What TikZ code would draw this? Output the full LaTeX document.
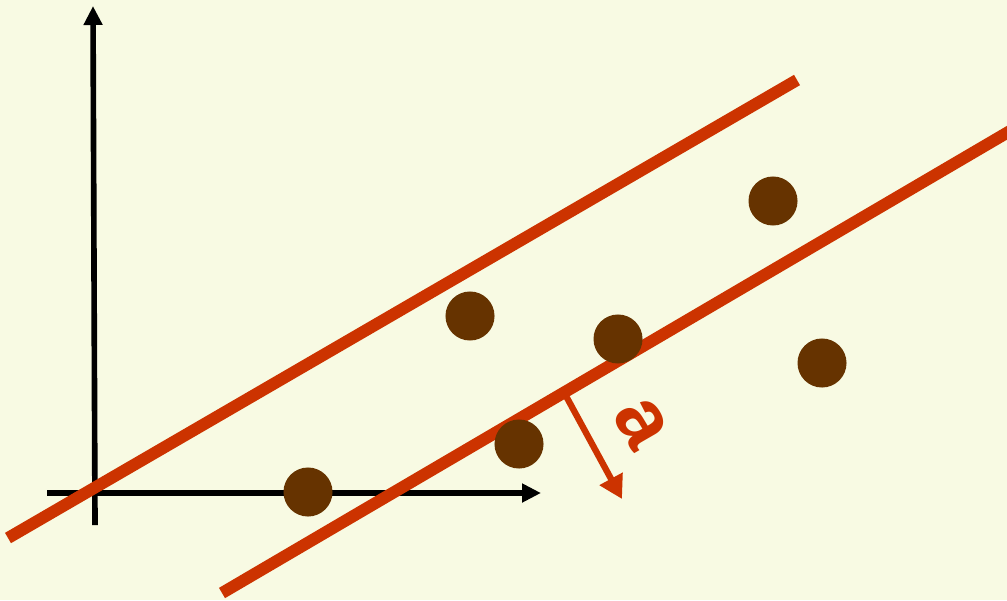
\documentclass[tikz,border=0pt]{standalone}
\usepackage{fontspec}
\setmainfont{Liberation Sans}
\usetikzlibrary{arrows.meta,calc,positioning}
\definecolor{plotbg}{RGB}{248,250,227}
\definecolor{fitred}{RGB}{204,51,0}
\definecolor{ptbrown}{RGB}{102,51,0}

\begin{document}
\begin{tikzpicture}[x=0.01cm, y=-0.01cm,
      axis/.style={line width=1.6pt, -{Triangle[length=0.19cm, width=0.18cm]}},
      bound/.style={fitred, line width=3.4pt},
      pt/.style={circle, fill=ptbrown, inner sep=0pt, minimum size=0.49cm}
    ]
      % background
      \fill[plotbg] (0,0) rectangle (1007,600);
      \useasboundingbox (0,0) rectangle (1007,600);

      % axes
      \coordinate (ybot) at (95,525);
      \coordinate (ytop) at (93,6);
      \coordinate (xleft) at (47,493);
      \coordinate (xright) at (541,493);
      \draw[axis] (ybot) -- (ytop);
      \draw[axis] (xleft) -- (xright);

      % the two red lines
      \coordinate (upA) at (8,538);
      \coordinate (upB) at (797,80);
      \coordinate (loA) at (222,593);
      \coordinate (loB) at (1010,131);
      \draw[bound] (upA) -- (upB);
      \draw[bound] (loA) -- (loB);

      % data points
      \node[pt] (p1) at (308,492) {};
      \node[pt] (p2) at (470,316) {};
      \node[pt] (p3) at (618,339) {};
      \node[pt] (p4) at (773,201) {};
      \node[pt] (p5) at (822,363) {};
      \node[pt] (p6) at (519,444) {};

      % margin arrow
      \coordinate (mfoot) at (566,396);
      \coordinate (mtip) at (622,499);
      \draw[fitred, line width=1.8pt, -{Triangle[length=0.23cm, width=0.25cm]}] (mfoot) -- (mtip);
      \node[fitred, font=\bfseries\fontsize{23}{26}\selectfont, rotate=-60] (alab) at (641,423) {a};
    \end{tikzpicture}
\end{document}
